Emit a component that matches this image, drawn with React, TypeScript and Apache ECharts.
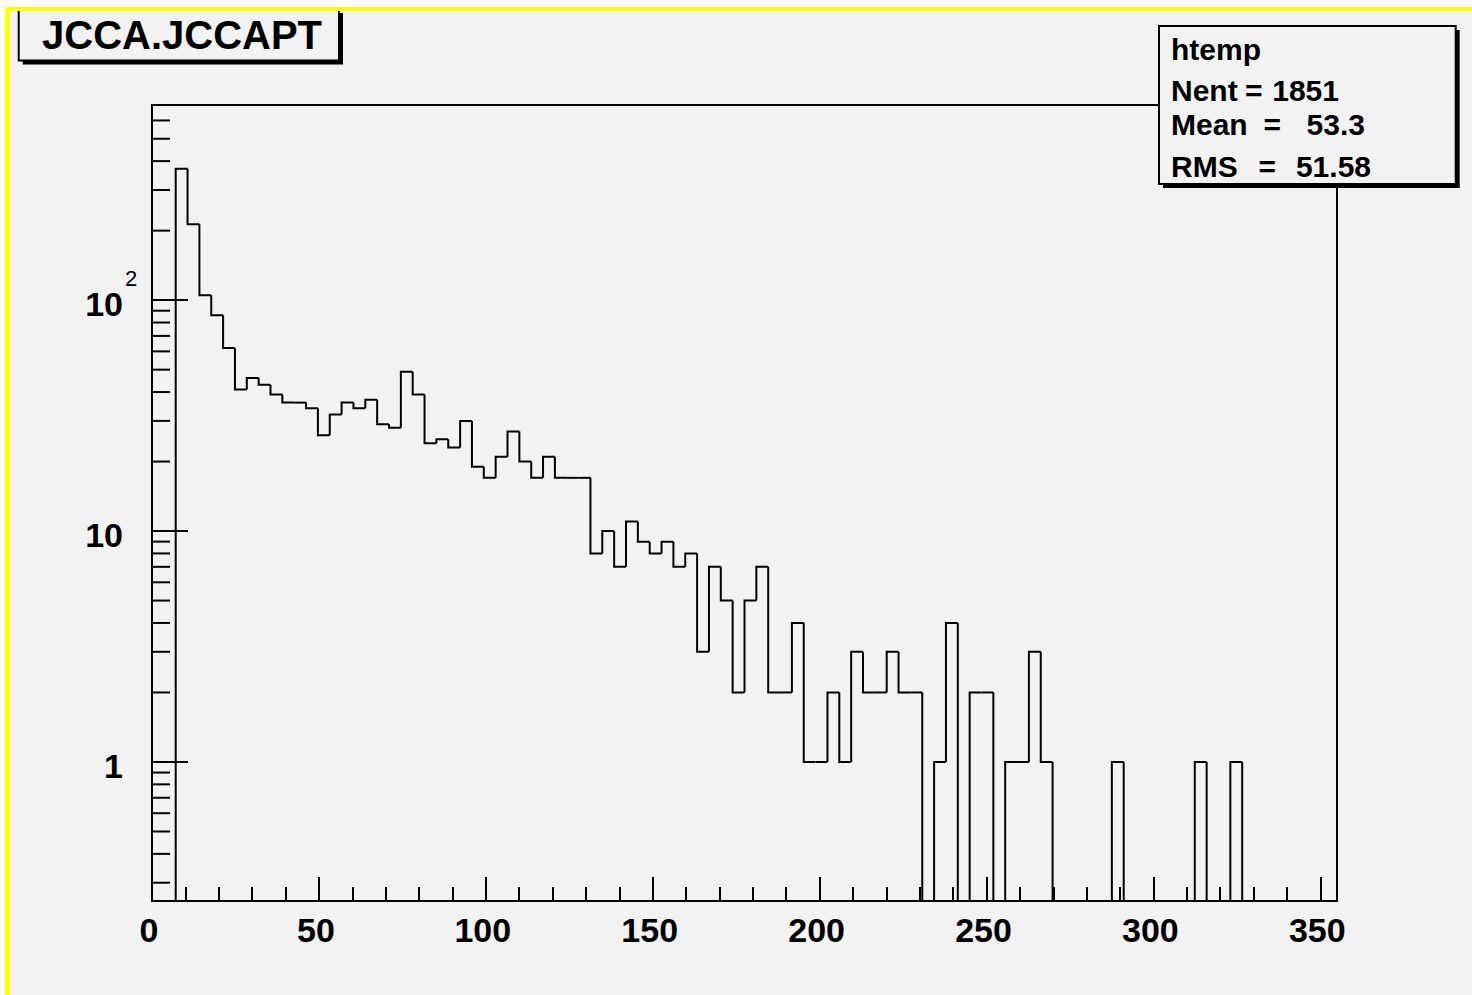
import React, { useEffect, useRef } from 'react';
import * as echarts from 'echarts';

// ---- data ----
const X_MIN = 0;
const X_MAX = 355;
const BIN_WIDTH = 3.55;
const Y_MIN = 0.25;
const Y_MAX = 700;

// 100 bins of width 3.55 from 0 to 355 (counts)
const counts: number[] = [
  0, 0, 371, 213, 105, 86, 62, 41, 46, 43,
  39, 36, 36, 34, 26, 32, 36, 34, 37, 29,
  28, 49, 39, 24, 25, 23, 30, 19, 17, 21,
  27, 20, 17, 21, 17, 17, 17, 8, 10, 7,
  11, 9, 8, 9, 7, 8, 3, 7, 5, 2,
  5, 7, 2, 2, 4, 1, 1, 2, 1, 3,
  2, 2, 3, 2, 2, 0, 1, 4, 0, 2,
  2, 0, 1, 1, 3, 1, 0, 0, 0, 0,
  0, 1, 0, 0, 0, 0, 0, 0, 1, 0,
  0, 1, 0, 0, 0, 0, 0, 0, 0, 0,
];

const xTickLabels = [0, 50, 100, 150, 200, 250, 300, 350];
const yTickLabels = [1, 10, 100];
const yMinorTicks = [
  0.3, 0.4, 0.5, 0.6, 0.7, 0.8, 0.9,
  2, 3, 4, 5, 6, 7, 8, 9,
  20, 30, 40, 50, 60, 70, 80, 90,
  200, 300, 400, 500, 600,
];

const titleText = 'JCCA.JCCAPT';
const statsName = 'htemp';
const statsLabels = ['Nent', 'Mean', 'RMS'];
const statsValues = ['1851', '53.3', '51.58'];

const FONT = "'Liberation Sans', Arial, Helvetica, sans-serif";
const BG = '#f2f2f2';

const bins = counts.map((c, i) => [
  +(X_MIN + i * BIN_WIDTH).toFixed(4),
  +(X_MIN + (i + 1) * BIN_WIDTH).toFixed(4),
  c,
  i > 0 ? counts[i - 1] : 0,
]);

function near(a: number, b: number) {
  return Math.abs(a - b) < 1e-6 * Math.max(1, Math.abs(b));
}

export default function App() {
  const ref = useRef<HTMLDivElement>(null);

  useEffect(() => {
    document.body.style.margin = '0';
    if (!ref.current) return;
    const chart = echarts.init(ref.current, null, { renderer: 'svg' });

    const statsRows = [90, 124, 166.7];
    const eqX = [1245, 1263.5, 1258.5];
    const valRight = [1339, 1365, 1371];

    const statsGraphics: any[] = [];
    statsLabels.forEach((lab, i) => {
      statsGraphics.push({
        type: 'text', x: 1171, y: statsRows[i], z: 102,
        style: { text: lab, font: `bold 30px ${FONT}`, fill: '#000', align: 'left', verticalAlign: 'middle' },
      });
      statsGraphics.push({
        type: 'text', x: eqX[i], y: statsRows[i], z: 102,
        style: { text: '=', font: `bold 30px ${FONT}`, fill: '#000', align: 'left', verticalAlign: 'middle' },
      });
      statsGraphics.push({
        type: 'text', x: valRight[i], y: statsRows[i], z: 102,
        style: { text: statsValues[i], font: `bold 30px ${FONT}`, fill: '#000', align: 'right', verticalAlign: 'middle' },
      });
    });

    const baseGraphics: any[] = [
      // page frame: white outside, yellow border lines
      { type: 'rect', z: 200, shape: { x: 0, y: 0, width: 1472, height: 7 }, style: { fill: '#fff' } },
      { type: 'rect', z: 200, shape: { x: 0, y: 0, width: 5, height: 995 }, style: { fill: '#fff' } },
      { type: 'rect', z: 201, shape: { x: 5, y: 7, width: 1467, height: 4 }, style: { fill: '#ffff00' } },
      { type: 'rect', z: 201, shape: { x: 5, y: 7, width: 5, height: 988 }, style: { fill: '#ffff00' } },
      // title box with shadow
      { type: 'rect', z: 100, shape: { x: 22.7, y: 13, width: 320.3, height: 51.5 }, style: { fill: '#000' } },
      { type: 'rect', z: 101, shape: { x: 18.7, y: 9, width: 320.3, height: 51.5 }, style: { fill: BG, stroke: '#000', lineWidth: 2 } },
      {
        type: 'text', x: 42, y: 35, z: 102,
        style: { text: titleText, font: `bold 40px ${FONT}`, fill: '#000', align: 'left', verticalAlign: 'middle' },
      },
      // stats box with shadow
      { type: 'rect', z: 100, shape: { x: 1163, y: 30, width: 296.7, height: 158 }, style: { fill: '#000' } },
      { type: 'rect', z: 101, shape: { x: 1159, y: 26, width: 296.7, height: 158 }, style: { fill: BG, stroke: '#000', lineWidth: 2 } },
      {
        type: 'text', x: 1171, y: 49, z: 102,
        style: { text: statsName, font: `bold 30px ${FONT}`, fill: '#000', align: 'left', verticalAlign: 'middle' },
      },
      ...statsGraphics,
    ];

    const option: any = {
      animation: false,
      backgroundColor: BG,
      grid: {
        left: 152, top: 105, width: 1185, height: 796,
        show: true, borderColor: '#000', borderWidth: 2, backgroundColor: 'transparent',
        containLabel: false, outerBoundsMode: 'none',
      },
      xAxis: {
        type: 'value', min: X_MIN, max: X_MAX, interval: 50,
        axisLine: { show: true, lineStyle: { color: '#000', width: 2 } },
        axisTick: { show: true, inside: true, length: 24, lineStyle: { color: '#000', width: 2 } },
        minorTick: { show: true, splitNumber: 5, length: 14, lineStyle: { color: '#000', width: 2 } },
        splitLine: { show: false },
        minorSplitLine: { show: false },
        axisLabel: {
          show: true, margin: 12, padding: [0, 6, 0, 0],
          color: '#000', fontFamily: FONT, fontWeight: 'bold', fontSize: 34,
          showMinLabel: true, showMaxLabel: true, hideOverlap: false,
          formatter: (v: number) => (xTickLabels.some((t) => near(t, v)) ? String(v) : ''),
        },
      },
      yAxis: {
        type: 'log', logBase: 10, min: Y_MIN, max: Y_MAX,
        axisLine: { show: true, lineStyle: { color: '#000', width: 2 } },
        axisTick: { show: true, inside: true, length: 36, lineStyle: { color: '#000', width: 2 } },
        minorTick: { show: false },
        splitLine: { show: false },
        axisLabel: {
          show: true, margin: 14, color: '#000', hideOverlap: false,
          formatter: (v: number) => {
            const t = yTickLabels.find((k) => near(k, v));
            if (t === undefined) return '';
            return `{a|${t === 100 ? '10' : String(t)}}{p| }`;
          },
          rich: {
            a: { fontFamily: FONT, fontWeight: 'bold', fontSize: 34, lineHeight: 34, padding: [8, 0, 0, 0], color: '#000' },
            p: { fontFamily: FONT, fontSize: 22, width: 15, lineHeight: 22 },
          },
        },
      },
      series: [
        {
          type: 'custom',
          name: 'hist',
          silent: true,
          data: bins,
          encode: { x: [0, 1], y: 2 },
          renderItem: (params: any, api: any) => {
            const cs = params.coordSys;
            const bottom = cs.y + cs.height;
            const yOf = (v: number) => (v > 0 ? api.coord([X_MIN, v])[1] : bottom);
            const x0 = api.coord([api.value(0), Y_MIN])[0];
            const x1 = api.coord([api.value(1), Y_MIN])[0];
            const y = yOf(api.value(2));
            const yp = yOf(api.value(3));
            return {
              type: 'polyline',
              shape: { points: [[x0, yp], [x0, y], [x1, y]] },
              style: { stroke: '#000', lineWidth: 2, fill: null },
            };
          },
        },
        {
          type: 'custom',
          name: 'yminor',
          silent: true,
          data: yMinorTicks.map((v) => [X_MIN, v]),
          encode: { x: 0, y: 1 },
          renderItem: (params: any, api: any) => {
            const cs = params.coordSys;
            const y = api.coord([X_MIN, api.value(1)])[1];
            return {
              type: 'line',
              shape: { x1: cs.x, y1: y, x2: cs.x + 18, y2: y },
              style: { stroke: '#000', lineWidth: 2 },
            };
          },
        },
      ],
      graphic: baseGraphics,
    };

    chart.setOption(option);

    // superscript exponent of the 10^2 label, placed from the axis scale
    const p100 = chart.convertToPixel({ gridIndex: 0 }, [X_MIN, 100]) as number[];
    chart.setOption({
      graphic: [
        ...baseGraphics,
        {
          type: 'text', x: 125, y: p100[1] - 22, z: 102,
          style: { text: '2', font: `normal 22px ${FONT}`, fill: '#000', align: 'left', verticalAlign: 'middle' },
        },
      ],
    });

    return () => {
      chart.dispose();
    };
  }, []);

  return <div ref={ref} style={{ width: 1472, height: 995, background: '#fff' }} />;
}
